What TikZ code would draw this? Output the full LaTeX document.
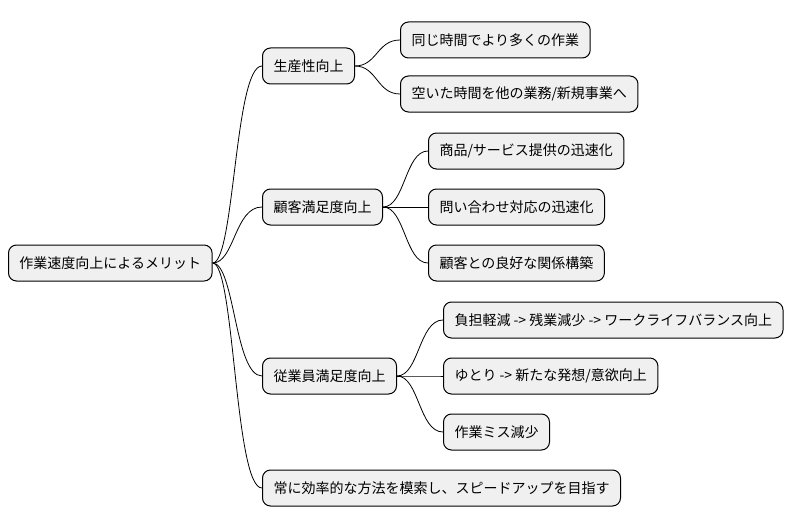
\documentclass[tikz,border=0pt]{standalone}
\usepackage{fontspec}
\setmainfont{Noto Sans CJK JP}
\usetikzlibrary{calc}
\begin{document}
\begin{tikzpicture}[x=1pt,y=-1pt,
  n/.style={draw=black,line width=1pt,fill=black!6,rounded corners=8pt,minimum height=36pt,inner xsep=11pt,anchor=west,font=\fontsize{14}{16}\selectfont},
  c/.style={line width=0.8pt}]
\useasboundingbox (0,0) rectangle (806,527);
\node[n] (r) at (8,263) {作業速度向上によるメリット};
\node[n] (a) at (262,66) {生産性向上};
\node[n] (a1) at (400,40) {同じ時間でより多くの作業};
\node[n] (a2) at (400,94) {空いた時間を他の業務/新規事業へ};
\node[n] (b) at (262,207) {顧客満足度向上};
\node[n] (b1) at (428,151) {商品/サービス提供の迅速化};
\node[n] (b2) at (428,207) {問い合わせ対応の迅速化};
\node[n] (b3) at (428,263) {顧客との良好な関係構築};
\node[n] (c) at (262,376) {従業員満足度向上};
\node[n] (c1) at (443,320) {負担軽減 -> 残業減少 -> ワークライフバランス向上};
\node[n] (c2) at (443,376) {ゆとり -> 新たな発想/意欲向上};
\node[n] (c3) at (443,432) {作業ミス減少};
\node[n] (d) at (262,488) {常に効率的な方法を模索し、スピードアップを目指す};
\foreach \p/\q in {r/a,r/b,r/c,r/d,a/a1,a/a2,b/b1,b/b2,b/b3,c/c1,c/c2,c/c3}{
  \draw[c] (\p.east) .. controls ([xshift=22pt]\p.east) and ($(\p.east|-\q.west)+(22pt,0)$) .. (\q.west);
}
\end{tikzpicture}
\end{document}
